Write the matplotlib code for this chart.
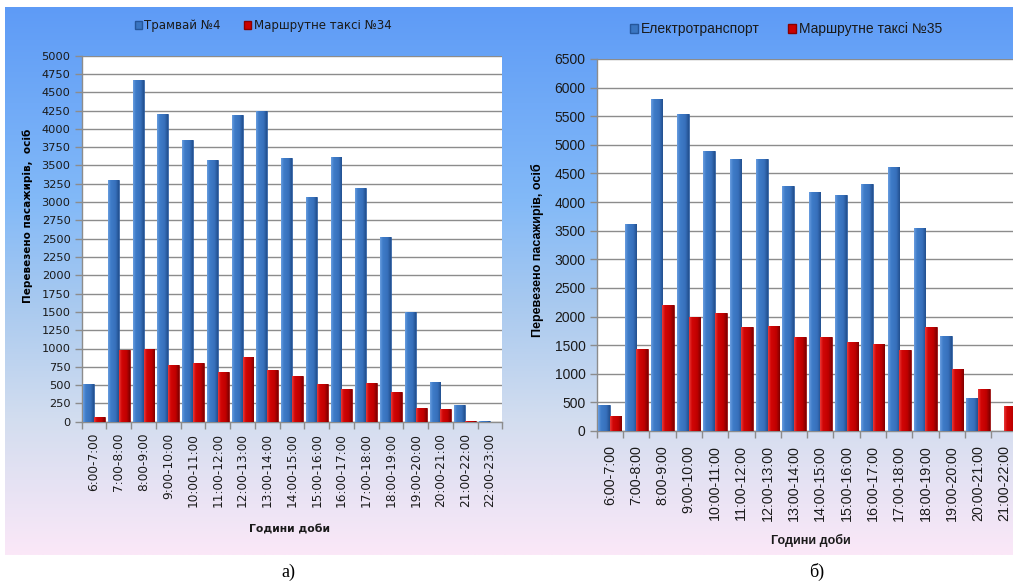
import numpy as np
import matplotlib
matplotlib.use("Agg")
import matplotlib.pyplot as plt
from matplotlib.patches import Patch
from matplotlib.colors import LinearSegmentedColormap

# ---------------- data ----------------
hours_a = ["6:00-7:00", "7:00-8:00", "8:00-9:00", "9:00-10:00", "10:00-11:00",
           "11:00-12:00", "12:00-13:00", "13:00-14:00", "14:00-15:00", "15:00-16:00",
           "16:00-17:00", "17:00-18:00", "18:00-19:00", "19:00-20:00", "20:00-21:00",
           "21:00-22:00", "22:00-23:00"]
tram4 = [520, 3300, 4670, 4210, 3850, 3570, 4190, 4250, 3600, 3070, 3620, 3190,
         2520, 1500, 540, 230, 5]
taxi34 = [60, 980, 1000, 780, 800, 680, 890, 710, 620, 520, 440, 530, 400, 190,
          180, 10, 0]

hours_b = ["6:00-7:00", "7:00-8:00", "8:00-9:00", "9:00-10:00", "10:00-11:00",
           "11:00-12:00", "12:00-13:00", "13:00-14:00", "14:00-15:00", "15:00-16:00",
           "16:00-17:00", "17:00-18:00", "18:00-19:00", "19:00-20:00", "20:00-21:00",
           "21:00-22:00"]
electro = [460, 3620, 5800, 5540, 4900, 4750, 4750, 4280, 4180, 4130, 4310, 4620,
           3550, 1660, 580, 0]
taxi35 = [270, 1430, 2200, 2000, 2060, 1810, 1840, 1640, 1640, 1560, 1520, 1420,
          1810, 1080, 740, 430]

legend_a = ["Трамвай №4", "Маршрутне таксі №34"]
legend_b = ["Електротранспорт", "Маршрутне таксі №35"]
ylabel = "Перевезено пасажирів, осіб"
xlabel = "Години доби"

# ---------------- style ----------------
W, H = 1013, 585
BLUE, BLUE_E = "#3a76c2", "#25569a"
RED, RED_E = "#cc0000", "#8a0000"
GRID = "#8c8c8c"
TXT = "#1a1a1a"

blue_cm = LinearSegmentedColormap.from_list(
    "bb", [(0, "#6a9ee0"), (0.25, "#3f7cc8"), (0.7, "#3770bb"), (1, "#224f8e")])
red_cm = LinearSegmentedColormap.from_list(
    "rb", [(0, "#e83a3a"), (0.25, "#d20606"), (0.7, "#c00000"), (1, "#800000")])

fig = plt.figure(figsize=(W / 100, H / 100), dpi=100)
fig.patch.set_facecolor("white")


def fx(px):
    return px / W


def fy(py):
    return 1 - py / H


def rect(x0, y0, x1, y1):
    return [fx(x0), fy(y1), fx(x1) - fx(x0), fy(y0) - fy(y1)]


grad = LinearSegmentedColormap.from_list(
    "bg", [(0.0, "#5e9bf6"), (0.35, "#82b9f8"), (0.55, "#aacaef"),
           (0.75, "#d2ddef"), (1.0, "#fbe8f8")])


def panel(x0, y0, x1, y1):
    bg = fig.add_axes(rect(x0, y0, x1, y1), zorder=-10)
    g = np.linspace(0, 1, 256).reshape(-1, 1)
    bg.imshow(g, aspect="auto", cmap=grad, extent=[0, 1, 0, 1], origin="upper")
    bg.set_axis_off()


panel(5, 7, 515, 555)
panel(515, 7, 1013, 555)


def style_axes(ax, cats, nslots, ymax, step, tickfont, xfs, yfs, pad_x):
    ax.set_facecolor("white")
    ax.set_xlim(-0.5, nslots - 0.5)
    ax.set_ylim(0, ymax)
    ax.set_yticks(np.arange(0, ymax + 1, step))
    ax.yaxis.grid(True, color=GRID, linewidth=1.0, zorder=0)
    ax.set_axisbelow(True)
    for s in ["top", "right"]:
        ax.spines[s].set_visible(False)
    for s in ["left", "bottom"]:
        ax.spines[s].set_color(GRID)
        ax.spines[s].set_linewidth(1.0)
    ax.set_xticks(range(len(cats)))
    ax.set_xticklabels(cats, rotation=90, fontsize=xfs, family=tickfont,
                       color=TXT, va="top", ha="center")
    ax.set_xticks(np.arange(-0.5, nslots, 1.0), minor=True)
    ax.tick_params(axis="x", which="major", length=0, pad=pad_x)
    ax.tick_params(axis="x", which="minor", length=5, color=GRID, width=1)
    ax.tick_params(axis="y", length=5, color=GRID, width=1, labelsize=yfs,
                   labelcolor=TXT, pad=3)
    for t in ax.get_yticklabels():
        t.set_family(tickfont)


def shade(ax, bars, cmap):
    g = np.linspace(0, 1, 64).reshape(1, -1)
    for b in bars:
        x0, y0 = b.get_x(), b.get_y()
        w, h = b.get_width(), b.get_height()
        if h <= 0:
            continue
        im = ax.imshow(g, cmap=cmap, aspect="auto", extent=[x0, x0 + w, y0, y0 + h],
                       zorder=3.5, interpolation="bilinear")
        im.set_clip_path(b)


def draw_bars(ax, s1, s2, nslots, ymax):
    x = np.arange(len(s1))
    w = 0.44
    b1 = ax.bar(x - w / 2, s1, width=w, color=BLUE, edgecolor=BLUE_E,
                linewidth=0.5, zorder=3)
    b2 = ax.bar(x + w / 2, s2, width=w, color=RED, edgecolor=RED_E,
                linewidth=0.5, zorder=3)
    shade(ax, b1, blue_cm)
    shade(ax, b2, red_cm)
    ax.set_xlim(-0.5, nslots - 0.5)
    ax.set_ylim(0, ymax)


# ---------------- chart a ----------------
axa = fig.add_axes(rect(81.7, 55.7, 502.3, 421.7))
draw_bars(axa, tram4, taxi34, len(hours_a), 5000)
style_axes(axa, hours_a, len(hours_a), 5000, 250, "DejaVu Sans", 8.7, 8.2, 8)

fig.text(fx(28), fy(216), "Перевезено пасажирів,  осіб", rotation=90,
         ha="center", va="center", fontsize=7.5, fontweight="bold",
         family="DejaVu Sans", color="black")
fig.text(fx(289), fy(530), xlabel, ha="center", va="center", fontsize=7.8,
         fontweight="bold", family="DejaVu Sans", color=TXT)
fig.legend(handles=[Patch(facecolor=BLUE, edgecolor=BLUE_E, label=legend_a[0]),
                    Patch(facecolor=RED, edgecolor=RED_E, label=legend_a[1])],
           loc="center", bbox_to_anchor=(fx(263), fy(25.7)), ncol=2, frameon=False,
           prop={"family": "DejaVu Sans", "size": 8.5}, handlelength=0.6,
           handleheight=0.6, handletextpad=0.2, columnspacing=2.0,
           labelcolor=TXT)

# ---------------- chart b ----------------
slot_b = 26.3
axb = fig.add_axes(rect(596.7, 59, 596.7 + 17 * slot_b, 431))
draw_bars(axb, electro, taxi35, 17, 6500)
style_axes(axb, hours_b, 17, 6500, 500, "Liberation Sans", 10.3, 10, 10)

fig.text(fx(537), fy(250), ylabel, rotation=90, ha="center", va="center",
         fontsize=9, fontweight="bold", family="Liberation Sans", color="black")
fig.text(fx(811), fy(540), xlabel, ha="center", va="center", fontsize=9,
         fontweight="bold", family="Liberation Sans", color=TXT)
fig.legend(handles=[Patch(facecolor=BLUE, edgecolor=BLUE_E, label=legend_b[0]),
                    Patch(facecolor=RED, edgecolor=RED_E, label=legend_b[1])],
           loc="center", bbox_to_anchor=(fx(786), fy(29.3)), ncol=2, frameon=False,
           prop={"family": "Liberation Sans", "size": 10}, handlelength=0.6,
           handleheight=0.6, handletextpad=0.2, columnspacing=2.0,
           labelcolor=TXT)

# ---------------- captions ----------------
fig.text(fx(288), fy(572), "а)", ha="center", va="center", fontsize=13,
         family="Liberation Serif", color="black")
fig.text(fx(817), fy(572), "б)", ha="center", va="center", fontsize=13,
         family="Liberation Serif", color="black")

fig.savefig("out.png", dpi=100, facecolor="white")
